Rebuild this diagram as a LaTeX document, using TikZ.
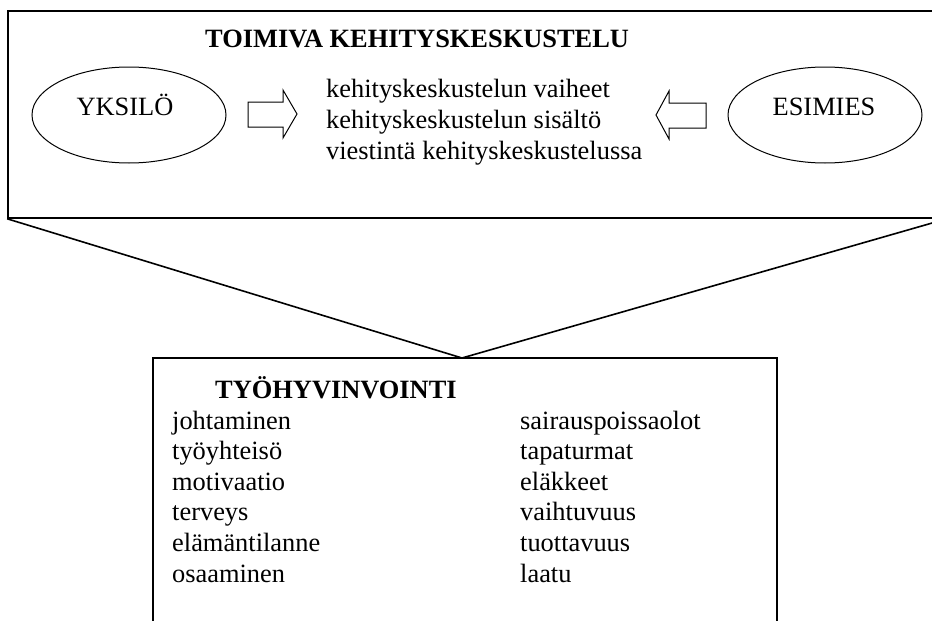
\documentclass[tikz,border=0pt]{standalone}
\usepackage{fontspec}
\setmainfont{Liberation Serif}
\usetikzlibrary{shapes.geometric}

\begin{document}
\begin{tikzpicture}[x=1pt,y=-1pt,
  frame/.style={draw,line width=1.6pt,inner sep=0pt},
  bubble/.style={ellipse,draw,line width=1pt,minimum width=194pt,minimum height=96pt,inner sep=0pt},
  fat arrow/.style={draw,line width=1pt,line join=miter},
  word/.style={font=\fontsize{26.4}{31}\selectfont,inner sep=0pt,anchor=base west},
  head/.style={word,font=\fontsize{26.4}{31}\selectfont\bfseries}]
        \useasboundingbox (0,0) rectangle (932,621);
        \clip (0,0) rectangle (932,621);

        % upper frame
        \node[frame,minimum width=938pt,minimum height=207pt] at (477,114.5) (kk) {};
        \node[head] at (205,47) (kktitle) {TOIMIVA KEHITYSKESKUSTELU};
        \node[bubble] at (129,115) (yksilo) {};
        \node[bubble] at (825,115) (esimies) {};
        \node[word,anchor=base] at (125,115) (yksilot) {YKSILÖ};
        \node[word,anchor=base] at (824,115) (esimiest) {ESIMIES};
        \node[word] at (326,97) (k1) {kehityskeskustelun vaiheet};
        \node[word] at (326,128) (k2) {kehityskeskustelun sisältö};
        \node[word] at (326,159) (k3) {viestintä kehityskeskustelussa};

        \draw[fat arrow] (248,102) -- (283,102) -- (283,90) -- (297,114) -- (283,138) -- (283,127) -- (248,127) -- cycle;
        \draw[fat arrow] (706,103) -- (669,103) -- (669,91) -- (656,115) -- (669,139) -- (669,128) -- (706,128) -- cycle;

        % lower frame
        \node[frame,minimum width=624pt,minimum height=320pt] at (465,518) (hv) {};
        \coordinate (apex) at (462,358);
        \node[head] at (215,398) (hvtitle) {TYÖHYVINVOINTI};
        \foreach \a/\b [count=\i from 0] in {johtaminen/sairauspoissaolot,työyhteisö/tapaturmat,motivaatio/eläkkeet,terveys/vaihtuvuus,elämäntilanne/tuottavuus,osaaminen/laatu}
        {
          \node[word] at (172,429+30.6*\i) (l\i) {\a};
          \node[word] at (520,429+30.6*\i) (r\i) {\b};
        }

        \draw[line width=1.6pt] (kk.south west) -- (apex);
        \draw[line width=1.6pt] (kk.south east) -- (apex);
\end{tikzpicture}
\end{document}
